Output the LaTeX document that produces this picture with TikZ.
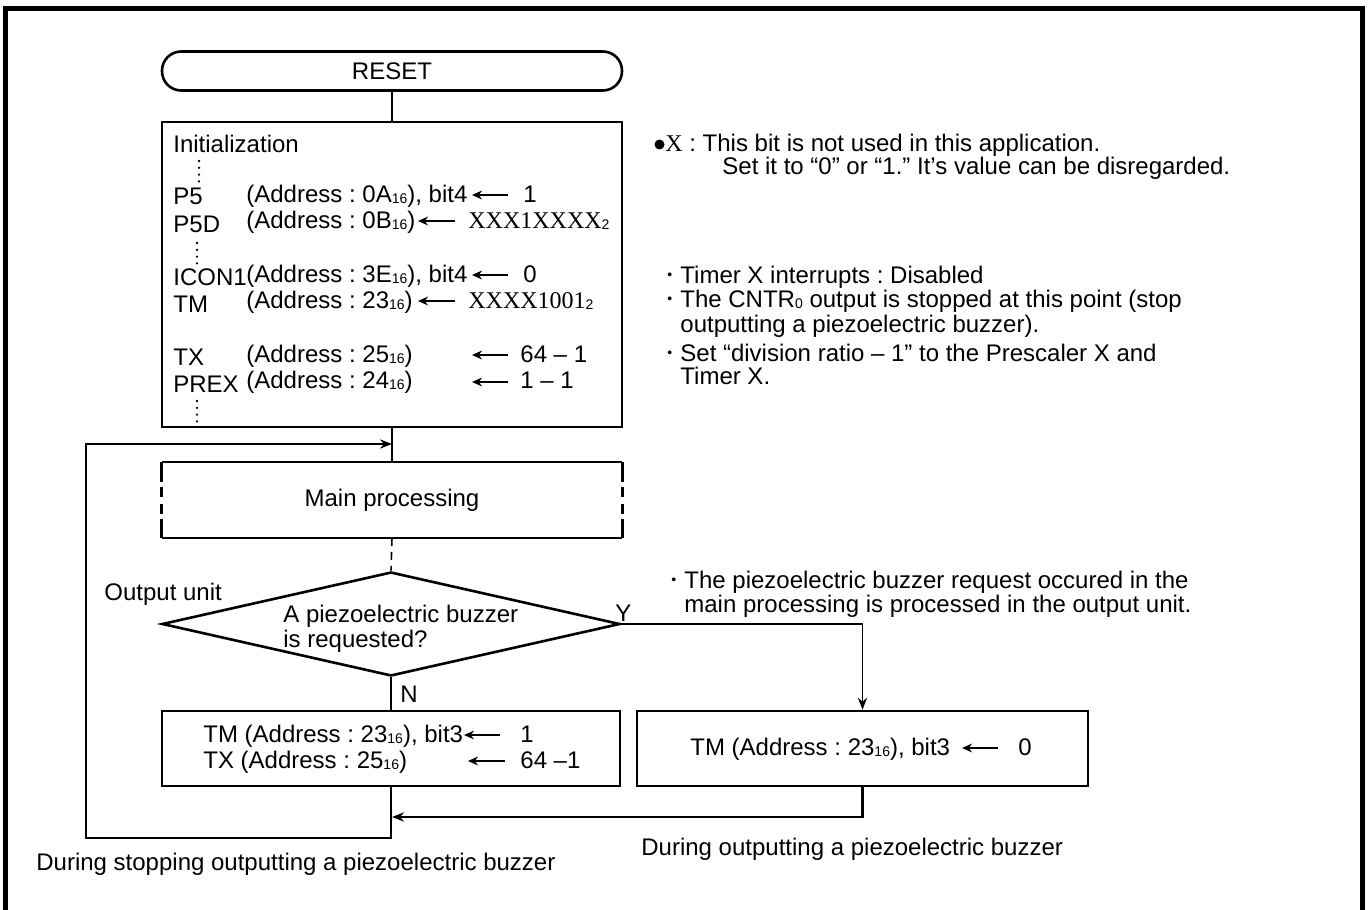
\documentclass[tikz,border=0pt]{standalone}
\usepackage{fontspec}
\setmainfont{Liberation Sans}
\newfontfamily\serifx{Liberation Serif}
\usetikzlibrary{arrows.meta,shapes.geometric,calc}
\newcommand\sx[1]{\raisebox{-0.6pt}{\fontsize{7}{7}\selectfont #1}}
\newcommand\smallbul{\raisebox{1.6pt}{\fontsize{7}{7}\selectfont\textbullet}}
\frenchspacing
\begin{document}
\begin{tikzpicture}[x=0.5pt,y=-0.5pt,
  font=\fontsize{12}{14}\selectfont\frenchspacing,
  box/.style={draw, line width=1.3pt, inner sep=0pt},
  txt/.style={anchor=base west, inner sep=0pt},
  ctxt/.style={anchor=base, inner sep=0pt},
  conn/.style={line width=0.8pt},
  arr/.style={conn, -{Stealth[length=6pt,width=4.6pt]}},
  tarr/.style={line width=0.9pt, {Stealth[length=5pt,width=4.4pt]}-},
  dotcol/.style={line width=1.3pt, line cap=round, dash pattern=on 0pt off 3.4pt},
  sidedash/.style={line width=1.3pt, dash pattern=on 10pt off 2.5pt on 5pt off 3.5pt on 5pt off 2.5pt on 8.5pt off 0pt}
]
\useasboundingbox (0,0) rectangle (1368,909);
% outer frame (open at the bottom)
\draw[line width=2.5pt] (5.8,912) -- (5.8,8.5) -- (1362.5,8.5) -- (1362.5,912);

% RESET terminal
\node[box, rounded corners=9.6pt, minimum width=230pt, minimum height=19.5pt] (reset) at (392,71) {RESET};

% Initialization box
\node[box, minimum width=230pt, minimum height=152.5pt] (init) at (392,274.5) {};
\draw[conn] (reset) -- (init);

\node[txt] (tinit) at (173,153) {Initialization};
\draw[dotcol] (199,161) -- (199,183);

\node[txt] (lp5) at (173,205) {P5};
\node[txt] (ap5) at (246,202) {(Address : 0A\sx{16}), bit4};
\coordinate (h1) at (472,195); \coordinate (t1) at (508,195);
\draw[tarr] (h1) -- (t1);
\node[txt] (v1) at (523,202) {1};

\node[txt] (lp5d) at (173,232) {P5D};
\node[txt] (ap5d) at (246,228) {(Address : 0B\sx{16})};
\coordinate (h2) at (418,221); \coordinate (t2) at (455,221);
\draw[tarr] (h2) -- (t2);
\node[txt] (v2) at (468,228) {{\serifx XXX1XXXX}\sx{2}};

\draw[dotcol] (197,243) -- (197,264);

\node[txt] (licon) at (173,285) {ICON1};
\node[txt] (aicon) at (246,282) {(Address : 3E\sx{16}), bit4};
\coordinate (h3) at (472,275); \coordinate (t3) at (508,275);
\draw[tarr] (h3) -- (t3);
\node[txt] (v3) at (523,282) {0};

\node[txt] (ltm) at (173,312) {TM};
\node[txt] (atm) at (246,308) {(Address : 23\sx{16})};
\coordinate (h4) at (418,301); \coordinate (t4) at (455,301);
\draw[tarr] (h4) -- (t4);
\node[txt] (v4) at (468,308) {{\serifx XXXX1001}\sx{2}};

\node[txt] (ltx) at (173,365) {TX};
\node[txt] (atx) at (246,362) {(Address : 25\sx{16})};
\coordinate (h5) at (472,355); \coordinate (t5) at (508,355);
\draw[tarr] (h5) -- (t5);
\node[txt] (v5) at (520,362) {64 -- 1};

\node[txt] (lprex) at (173,392) {PREX};
\node[txt] (aprex) at (246,388) {(Address : 24\sx{16})};
\coordinate (h6) at (472,382); \coordinate (t6) at (508,382);
\draw[tarr] (h6) -- (t6);
\node[txt] (v6) at (520,388) {1 -- 1};

\draw[dotcol] (197,401) -- (197,422);

% notes, top right
\node[circle, fill, inner sep=0pt, minimum size=5pt] (bigbul) at (659.5,144.5) {};
\node[txt] (n1) at (665,152) {{\serifx X} : This bit is not used in this application.};
\node[txt] (n2) at (722,175) {Set it to “0” or “1.” It’s value can be disregarded.};

\node[txt] (b1) at (667,283) {\smallbul};
\node[txt] (n3) at (680,283) {Timer X interrupts : Disabled};
\node[txt] (b2) at (667,307) {\smallbul};
\node[txt] (n4) at (680,307) {The CNTR\sx{0} output is stopped at this point (stop};
\node[txt] (n5) at (680,332) {outputting a piezoelectric buzzer).};
\node[txt] (b3) at (667,361) {\smallbul};
\node[txt] (n6) at (680,361) {Set “division ratio -- 1” to the Prescaler X and};
\node[txt] (n7) at (680,384) {Timer X.};

% main processing
\coordinate (j1) at (392,444);
\node[inner sep=0pt, minimum width=230pt, minimum height=37.5pt] (main) at (392,500) {Main processing};
\draw[line width=1.3pt] (main.north west) -- (main.north east);
\draw[line width=1.3pt] (main.south west) -- (main.south east);
\draw[sidedash] (main.north west) -- (main.south west);
\draw[sidedash] (main.north east) -- (main.south east);
\draw[conn] (init.south) -- (main.north);

% decision
\node[diamond, draw, line width=1.3pt, inner sep=0pt, minimum width=229pt, minimum height=52pt] (dia) at (391,624) {};
\draw[conn, dash pattern=on 4pt off 3pt] (main.south) -- (dia.north);
\node[txt] (d1) at (283,622) {A piezoelectric buzzer};
\node[txt] (d2) at (283,647) {is requested?};
\node[txt] (ou) at (104,600) {Output unit};
\node[txt] (ly) at (615,621) {Y};
\node[txt] (ln) at (400,702) {N};
\node[txt] (b4) at (671,588) {\smallbul};
\node[txt] (n8) at (684,588) {The piezoelectric buzzer request occured in the};
\node[txt] (n9) at (684,612) {main processing is processed in the output unit.};

% process boxes
\node[box, minimum width=229pt, minimum height=37.5pt] (box1) at (391,748.5) {};
\node[box, minimum width=225.5pt, minimum height=37.5pt] (box2) at (862.5,748.5) {};
\draw[conn] (dia.south) -- (box1.north);
\draw[arr] (dia.east) -| (box2.north);

\node[txt] (r1) at (203,742) {TM (Address : 23\sx{16}), bit3};
\coordinate (h7) at (464,735); \coordinate (t7) at (500,735);
\draw[tarr] (h7) -- (t7);
\node[txt] (w1) at (520,742) {1};
\node[txt] (r2) at (203,768) {TX (Address : 25\sx{16})};
\coordinate (h8) at (468,761); \coordinate (t8) at (505,761);
\draw[tarr] (h8) -- (t8);
\node[txt] (w2) at (520,768) {64 --1};

\node[txt] (r3) at (690,755) {TM (Address : 23\sx{16}), bit3};
\coordinate (h9) at (962,748); \coordinate (t9) at (998,748);
\draw[tarr] (h9) -- (t9);
\node[txt] (w3) at (1018,755) {0};

% return paths
\coordinate (j2) at (392,817);
\coordinate (lb) at (86,838);
\draw[arr, line width=1.2pt] (box2.south) |- (j2);
\draw[arr] (box1.south) |- (lb) |- (j1);

\node[txt] (s1) at (36,870) {During stopping outputting a piezoelectric buzzer};
\node[txt] (s2) at (641,855) {During outputting a piezoelectric buzzer};
\end{tikzpicture}
\end{document}
